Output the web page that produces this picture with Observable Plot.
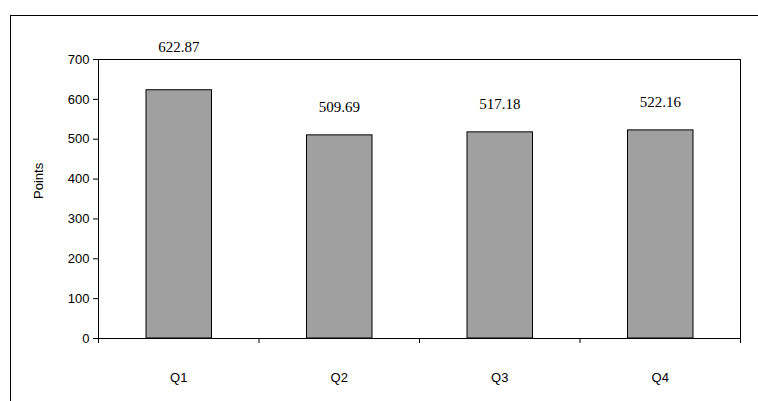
<!DOCTYPE html>
<html>
<head>
<meta charset="utf-8">
<script src="https://cdn.jsdelivr.net/npm/d3@7"></script>
<script src="https://cdn.jsdelivr.net/npm/@observablehq/plot@0.6"></script>
<style>
  body { margin: 0; background: #fff; }
  #wrap { position: relative; width: 758px; height: 401px; overflow: hidden; }
  #box { position: absolute; left: 10px; top: 15px; width: 760px; height: 400px; border: 1.5px solid #000; }
  #chart { position: absolute; left: 0; top: 0; }
</style>
</head>
<body>
<div id="wrap"><div id="box"></div><div id="chart"></div></div>
<script>
const quarters = ["Q1", "Q2", "Q3", "Q4"];
const points = [622.87, 509.69, 517.18, 522.16];
const yTicks = [0, 100, 200, 300, 400, 500, 600, 700];

const data = quarters.map((q, i) => ({q, i, v: points[i]}));

const chart = Plot.plot({
  width: 758,
  height: 401,
  marginLeft: 98,
  marginRight: 18,
  marginTop: 59,
  marginBottom: 63,
  style: {fontFamily: "Liberation Sans, Arial, sans-serif", fontSize: "13px", color: "#000"},
  x: {domain: [0, 4], label: null},
  y: {domain: [0, 700], label: null},
  marks: [
    Plot.frame({stroke: "#000"}),
    Plot.rectY(data, {x1: "i", x2: d => d.i + 1, y: "v", insetLeft: 48, insetRight: 47, fill: "#a0a0a0", stroke: "#000"}),
    Plot.axisY({ticks: yTicks, tickSize: 5, label: null, fontSize: 13}),
    Plot.axisX({ticks: [0, 1, 2, 3, 4], tickFormat: () => "", tickSize: 5, label: null}),
    Plot.text(data, {x: d => d.i + 0.5, y: 0, text: "q", dy: 39, fontSize: 13}),
    Plot.text(data.filter(d => d.i > 0), {x: d => d.i + 0.5, y: "v", text: d => d.v.toFixed(2), dy: -28, fontFamily: "Liberation Serif, Times New Roman, serif", fontSize: 15}),
    Plot.text(data.filter(d => d.i === 0), {x: d => d.i + 0.5, y: "v", text: d => d.v.toFixed(2), dy: -43, fontFamily: "Liberation Serif, Times New Roman, serif", fontSize: 15}),
    Plot.text(["Points"], {frameAnchor: "left", dx: -60, rotate: -90, fontSize: 13})
  ]
});
document.getElementById("chart").append(chart);
</script>
</body>
</html>
